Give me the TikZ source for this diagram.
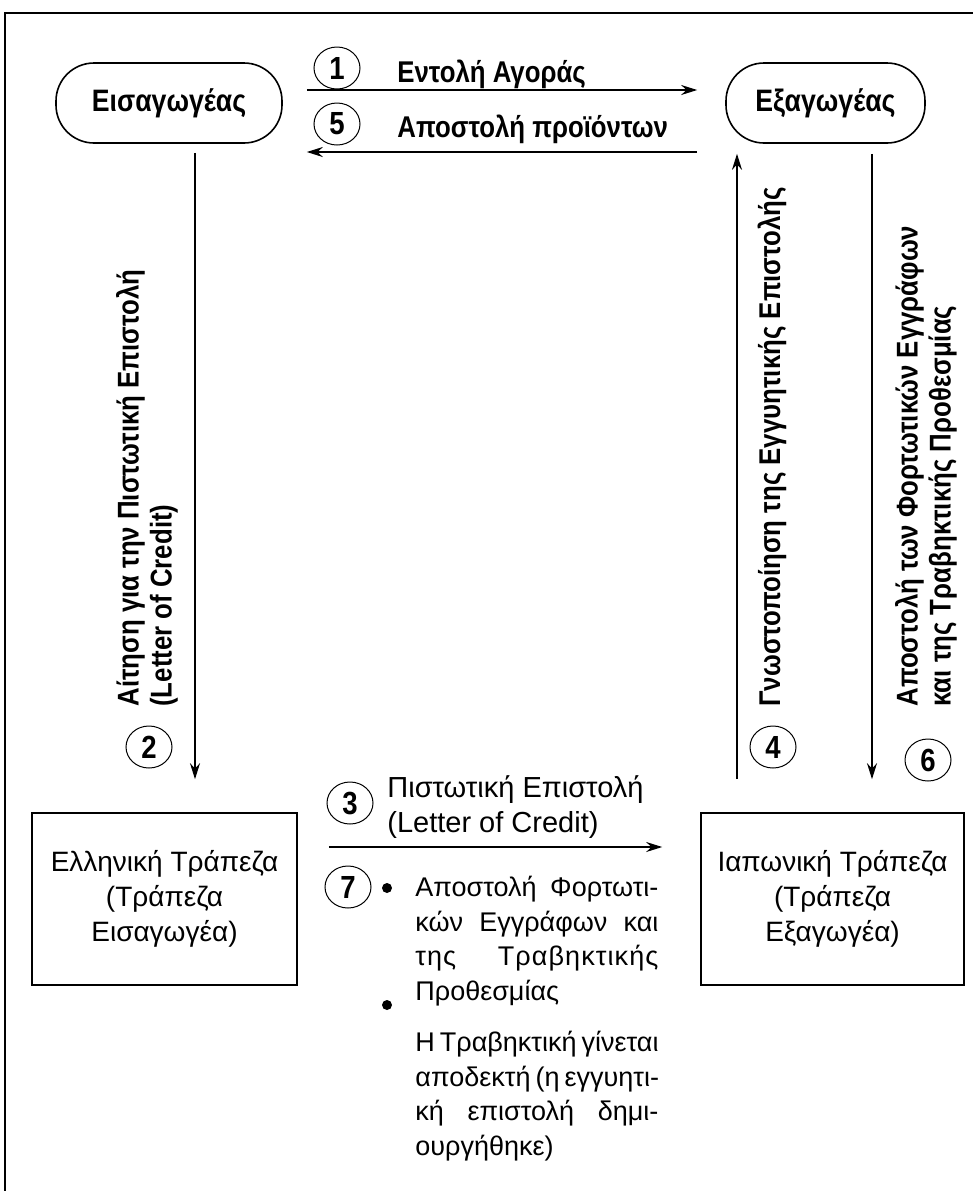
\documentclass[tikz,border=0pt]{standalone}
\usepackage{fontspec}
\setmainfont{Liberation Sans}
\newfontfamily\condfont{Liberation Sans}[FakeStretch=0.86]
\usetikzlibrary{arrows.meta,positioning,shapes.geometric}

\newcommand{\jline}[1]{\makebox[121.5pt][s]{#1}}

\tikzset{
  party/.style={draw, line width=0.8pt, rounded corners=19pt, minimum height=40pt, font=\condfont\fontsize{15.5}{17}\selectfont\bfseries},
  bank/.style={draw, line width=0.8pt, minimum width=132.5pt, minimum height=86pt, align=center, font=\fontsize{14}{17.5}\selectfont},
  flow/.style={line width=0.6pt, -{Stealth[length=8pt,width=5pt]}},
  stepno/.style={draw, ellipse, line width=0.5pt, minimum width=23pt, minimum height=21pt, inner sep=0pt, font=\condfont\fontsize{16}{16}\selectfont\bfseries},
  lbl/.style={inner sep=0pt, font=\condfont\fontsize{15}{17}\selectfont\bfseries},
  sidelbl/.style={lbl, rotate=90, anchor=west, align=left, font=\condfont\fontsize{15}{16.5}\selectfont\bfseries},
  plain/.style={inner sep=0pt, align=left, font=\fontsize{13.5}{17.2}\selectfont},
  dot/.style={circle, fill, inner sep=0pt, minimum size=5pt}
}

\begin{document}
\begin{tikzpicture}[x=0.5pt,y=-0.5pt]
    \clip (0,0) rectangle (973,1191);
    \draw[line width=1.3pt] (5,13) rectangle (1000,1220);

    \node[party, minimum width=113pt] (imp) at (169,103) {Εισαγωγέας};
    \node[party, minimum width=99.5pt] (exp) at (825.5,103) {Εξαγωγέας};
    \node[bank] (grb) at (164.5,899) {Ελληνική Τράπεζα\\(Τράπεζα\\Εισαγωγέα)};
    \node[bank, minimum width=131.5pt] (jpb) at (832.5,899) {Ιαπωνική Τράπεζα\\(Τράπεζα\\Εξαγωγέα)};

    \draw[flow] ([xshift=12pt,yshift=6.5pt]imp.east) -- ([xshift=-14pt,yshift=6.5pt]exp.west);
    \draw[flow] ([xshift=-14pt,yshift=-24.5pt]exp.west) -- ([xshift=12pt,yshift=-24.5pt]imp.east);
    \draw[flow] ([xshift=13pt,yshift=-4.5pt]imp.south) -- ([xshift=15.25pt,yshift=16.5pt]grb.north);
    \draw[flow] ([xshift=-47.75pt,yshift=16.5pt]jpb.north) -- ([xshift=-44.25pt,yshift=-5pt]exp.south);
    \draw[flow] ([xshift=23.25pt,yshift=-5pt]exp.south) -- ([xshift=19.75pt,yshift=16.5pt]jpb.north);
    \draw[flow] ([xshift=15.5pt,yshift=26pt]grb.east) -- ([xshift=-19pt,yshift=26pt]jpb.west);

    \node[stepno] (n1) at (337,68) {1};
    \node[stepno] (n5) at (337,124) {5};
    \node[stepno] (n2) at (149,747) {2};
    \node[stepno] (n4) at (773,747) {4};
    \node[stepno] (n6) at (928,760) {6};
    \node[stepno] (n3) at (350,803) {3};
    \node[stepno] (n7) at (348,887) {7};

    \node[lbl, anchor=base west] (t1) at (397,82) {Εντολή Αγοράς};
    \node[lbl, anchor=base west] (t5) at (397,137) {Αποστολή προϊόντων};
    \node[sidelbl] (t2) at (147,707) {Αίτηση για την Πιστωτική Επιστολή\\(Letter of Credit)};
    \node[sidelbl] (t4) at (772,707) {Γνωστοποίηση της Εγγυητικής Επιστολής};
    \node[sidelbl] (t6) at (926,707) {Αποστολή των Φορτωτικών Εγγράφων\\και της Τραβηκτικής Προθεσμίας};

    \node[plain, anchor=base west, font=\fontsize{14.5}{17.5}\selectfont] (t3) at (387,832) {Πιστωτική Επιστολή\\(Letter of Credit)};
    \node[dot] (d1) at (387,888) {};
    \node[dot] (d2) at (387,1005) {};
    \node[plain, anchor=base west] (t7a) at (415,1000)
        {\jline{Αποστολή Φορτωτι-}\\\jline{κών Εγγράφων και}\\\jline{\addfontfeature{LetterSpace=4}της Τραβηκτικής}\\Προθεσμίας};
    \node[plain, anchor=base west] (t7b) at (415,1155)
        {\jline{Η Τραβηκτική γίνεται}\\\jline{αποδεκτή (η εγγυητι-}\\\jline{κή επιστολή δημι-}\\ουργήθηκε)};
\end{tikzpicture}
\end{document}
